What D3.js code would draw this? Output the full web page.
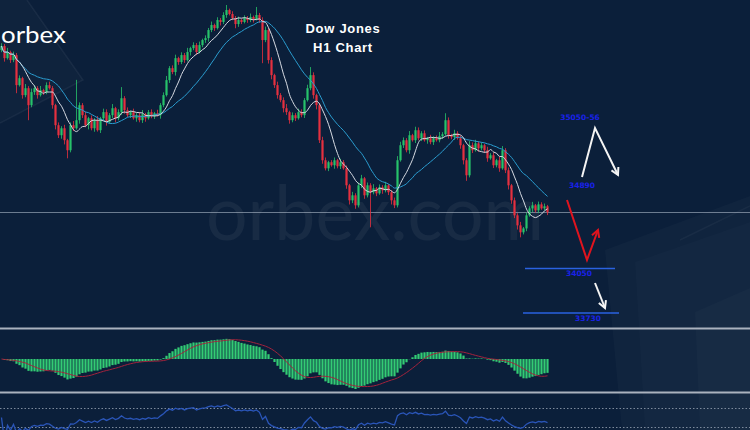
<!DOCTYPE html>
<html><head><meta charset="utf-8">
<script src="https://cdn.jsdelivr.net/npm/d3@7"></script>
<style>html,body{margin:0;padding:0;background:#0b1f3a;overflow:hidden}</style>
</head><body><svg id="c" width="750" height="430"></svg>
<script>
// ---- data (Dow Jones H1 closes) ----
const firstOpen = 35620;
const closes = [
35649,35562,35606,35548,35584,35368,35418,35296,35346,35224,
35318,35346,35296,35332,35318,35368,35346,35224,35080,35008,
35058,34972,34900,35080,35058,35116,35224,35152,35080,35130,
35058,35116,35044,35130,35174,35102,35152,35202,35130,35174,
35274,35188,35152,35174,35130,35152,35116,35159,35130,35174,
35145,35166,35152,35224,35296,35404,35490,35462,35562,35534,
35584,35548,35606,35634,35656,35606,35656,35692,35706,35764,
35800,35778,35836,35822,35872,35908,35879,35850,35807,35836,
35822,35850,35836,35858,35843,35872,35836,35692,35764,35548,
35440,35368,35296,35260,35202,35174,35116,35152,35130,35174,
35152,35260,35346,35440,35296,35224,34972,34828,34770,34814,
34792,34828,34785,34814,34770,34648,34540,34576,34504,34648,
34698,34576,34648,34598,34626,34590,34634,34612,34648,34598,
34540,34504,34828,34936,34972,34900,35008,34972,35044,34986,
35022,34972,34986,34958,34986,34972,35001,35015,35116,35008,
34994,35022,34986,34936,34828,34720,34936,34900,34950,34914,
34936,34900,34842,34864,34792,34828,34770,34900,34756,34648,
34540,34432,34360,34310,34338,34432,34482,34504,34468,34511,
34482,34497,34454];
const upWick = [
20,15,30,10,25,15,20,10,30,15, 25,20,15,30,10,20,25,15,10,20,
15,25,10,20,30,290,20,15,25,10, 20,15,30,10,25,20,15,30,10,20,
80,15,20,10,25,15,20,30,10,15, 20,10,25,15,20,30,15,20,25,10,
20,15,30,10,20,15,25,10,20,15, 25,10,20,15,20,36,10,20,15,25,
10,20,15,25,10,58,15,20,25,15, 20,10,25,15,20,30,10,20,15,25,
20,15,25,58,20,10,15,25,20,10, 15,20,10,25,15,20,10,25,15,20,
25,10,20,15,30,10,20,15,25,10, 15,20,30,25,20,15,30,10,25,20,
15,20,10,25,15,20,30,15,50,20, 10,25,15,20,10,15,30,20,25,15,
20,10,25,15,20,10,25,30,15,20, 10,20,15,25,10,20,15,25,10,20,
15,20,10];
const downWick = [
15,25,10,20,15,58,10,25,15,108, 15,20,25,10,20,15,10,25,30,20,
25,30,58,15,20,10,25,20,15,30, 15,25,10,20,15,25,10,20,30,15,
20,25,15,20,10,25,15,20,25,10, 15,20,10,25,15,10,20,15,25,20,
15,20,10,25,15,20,10,15,20,25, 15,20,10,25,15,20,10,15,30,20,
15,10,20,15,25,10,20,166,15,25, 30,20,25,15,30,20,25,15,20,10,
15,20,10,15,25,30,20,25,15,20, 10,25,15,20,10,25,30,20,25,15,
20,25,15,252,15,20,10,25,15,20, 30,20,15,10,20,15,25,10,20,15,
20,10,25,15,20,10,15,20,10,25, 15,20,10,25,30,40,15,20,10,25,
15,20,25,10,20,15,25,10,20,30, 25,20,30,36,15,20,10,25,15,20,
10,15,20];
const levelValues = [34050, 33730];
const levelLabels = ["34050", "33730"];
const targetLabels = ["35050-56", "34890"];
const titleLines = ["Dow Jones", "H1 Chart"];

// ---- derived OHLC ----
const candles = closes.map((c, i) => {
  const o = i === 0 ? firstOpen : closes[i - 1];
  return {i, o, c, h: Math.max(o, c) + upWick[i], l: Math.min(o, c) - downWick[i]};
});

const svg = d3.select("#c");
const W = 750, H = 430;
const x = d3.scaleLinear().domain([0, closes.length - 1]).range([1.5, 547.5]);
const y = d3.scaleLinear().domain([33730, 35980]).range([313, 0]);

// background
svg.append("rect").attr("width", W).attr("height", H).attr("fill", "#0b1f3a");
const deco = svg.append("g");
deco.append("path").attr("d", "M0,0 L27,0 L83,80 L0,123 Z").attr("fill", "rgba(255,255,255,0.018)");
deco.append("path").attr("d", "M27,0 L83,80 L0,123").attr("fill", "none").attr("stroke", "rgba(255,255,255,0.05)").attr("stroke-width", 1.5);
deco.append("path").attr("d", "M605,250 L750,196 L750,430 L622,430 Z").attr("fill", "rgba(255,255,255,0.022)");
deco.append("path").attr("d", "M635,262 L750,222 L750,430 L645,430 Z").attr("fill", "rgba(255,255,255,0.015)");
deco.append("path").attr("d", "M695,312 L750,288 L750,430 L700,430 Z").attr("fill", "rgba(255,255,255,0.02)");
deco.append("path").attr("d", "M680,240 L750,206").attr("stroke", "rgba(255,255,255,0.04)").attr("stroke-width", 1.5);

// watermark
svg.append("text").attr("x", 206).attr("y", 240).attr("font-family", "Lato").attr("font-weight", 400)
  .attr("font-size", 76).attr("fill", "rgba(255,255,255,0.055)").attr("textLength", 338)
  .attr("lengthAdjust", "spacingAndGlyphs").text("orbex.com");

// logo
svg.append("text").attr("x", 1).attr("y", 43).attr("font-family", "Lato").attr("font-weight", 400)
  .attr("font-size", 24).attr("fill", "#ffffff").attr("textLength", 65)
  .attr("lengthAdjust", "spacingAndGlyphs").text("orbex");

// current price line
svg.append("line").attr("x1", 0).attr("x2", W).attr("y1", Math.round(y(closes[closes.length - 1])) + 0.5)
  .attr("y2", Math.round(y(closes[closes.length - 1])) + 0.5).attr("stroke", "rgba(190,200,215,0.55)").attr("stroke-width", 1);

// candles
const green = "#27c26a", red = "#e5303f";
const cg = svg.append("g");
cg.selectAll("rect.w").data(candles).join("rect").attr("class", "w")
  .attr("x", d => x(d.i) - 0.5).attr("width", 1)
  .attr("y", d => y(d.h)).attr("height", d => y(d.l) - y(d.h))
  .attr("fill", d => d.c >= d.o ? green : red).attr("opacity", 0.8);
cg.selectAll("rect.b").data(candles).join("rect").attr("class", "b")
  .attr("x", d => x(d.i) - 1.1).attr("width", 2.2)
  .attr("y", d => y(Math.max(d.o, d.c))).attr("height", d => Math.max(1, Math.abs(y(d.o) - y(d.c))))
  .attr("fill", d => d.c >= d.o ? green : red);

// moving averages
function sma(a, n) { return a.map((v, i) => d3.mean(a.slice(Math.max(0, i - n + 1), i + 1))); }
function ema(a, n) { const k = 2 / (n + 1); let e = a[0]; return a.map(v => (e = e + k * (v - e))); }
const ma8 = sma(closes, 8), ma20 = sma(closes, 20);
const lineP = d3.line().x((d, i) => x(i)).y(d => y(d)).curve(d3.curveMonotoneX);
svg.append("path").attr("d", lineP(ma20)).attr("fill", "none").attr("stroke", "#2a9ccf").attr("stroke-width", 1);
svg.append("path").attr("d", lineP(ma8)).attr("fill", "none").attr("stroke", "#d6dae2").attr("stroke-width", 1);

// title
svg.selectAll("text.t").data(titleLines).join("text").attr("class", "t")
  .attr("x", 343).attr("y", (d, i) => 33 + i * 19).attr("text-anchor", "middle")
  .attr("font-family", "Liberation Sans, Arial").attr("font-weight", 700).attr("font-size", 13)
  .attr("letter-spacing", 0.7).attr("fill", "#ffffff").text(d => d);

// annotations
const ann = svg.append("g");
function arrow(pts, color) {
  ann.append("polyline").attr("points", pts.map(p => p.join(",")).join(" ")).attr("fill", "none")
    .attr("stroke", color).attr("stroke-width", 2).attr("stroke-linejoin", "miter");
  const [p1, p2] = pts.slice(-2);
  const ang = Math.atan2(p2[1] - p1[1], p2[0] - p1[0]);
  const L = 8, s = 0.5;
  const a1 = [p2[0] - L * Math.cos(ang - s), p2[1] - L * Math.sin(ang - s)];
  const a2 = [p2[0] - L * Math.cos(ang + s), p2[1] - L * Math.sin(ang + s)];
  ann.append("polyline").attr("points", [a1, p2, a2].map(p => p.join(",")).join(" "))
    .attr("fill", "none").attr("stroke", color).attr("stroke-width", 2);
}
arrow([[582, 177], [595, 128], [618, 175]], "#f4f4f4");
arrow([[567, 200], [587, 260], [598, 230]], "#e0141e");
arrow([[595, 283], [605, 308]], "#f4f4f4");

const lvX = [[525, 615], [523, 619]];
ann.selectAll("line.lv").data(levelValues).join("line").attr("class", "lv")
  .attr("x1", (d, i) => lvX[i][0]).attr("x2", (d, i) => lvX[i][1])
  .attr("y1", d => y(d)).attr("y2", d => y(d)).attr("stroke", "#2a62e0").attr("stroke-width", 1.3);
const blueTxt = {"font-family": "DejaVu Sans", "font-weight": 700, "font-size": 7.5, fill: "#1a22e8"};
function btext(xp, yp, t) {
  const el = ann.append("text").attr("x", xp).attr("y", yp).attr("text-anchor", "middle").text(t);
  Object.entries(blueTxt).forEach(([k, v]) => el.attr(k, v));
}
levelLabels.forEach((t, i) => btext((lvX[i][0] + lvX[i][1]) / 2 + (i === 0 ? 9 : 17), y(levelValues[i]) + 8, t));
btext(580, 120, targetLabels[0]);
btext(582, 188, targetLabels[1]);

// separators
[328.5, 392.5].forEach(yy => svg.append("line").attr("x1", 0).attr("x2", W).attr("y1", yy).attr("y2", yy)
  .attr("stroke", "#aab2be").attr("stroke-width", 2.2));

// MACD panel
const e12 = ema(closes, 12), e26 = ema(closes, 26);
const macd = e12.map((v, i) => v - e26[i]);
const signal = sma(macd, 9);
const m = d3.max(macd, v => Math.abs(v));
const yM = d3.scaleLinear().domain([-m, m]).range([389, 329]);
const zero = yM(0);
svg.append("g").selectAll("rect").data(macd).join("rect")
  .attr("x", (d, i) => x(i) - 1.1).attr("width", 2.2)
  .attr("y", d => Math.min(yM(d), zero)).attr("height", d => Math.abs(yM(d) - zero))
  .attr("fill", "#33cc74");
svg.append("path").attr("d", d3.line().x((d, i) => x(i)).y(d => yM(d))(signal))
  .attr("fill", "none").attr("stroke", "#a3223c").attr("stroke-width", 1);

// RSI panel
const rsi = [];
let ag = 0, al = 0;
closes.forEach((c, i) => {
  if (i === 0) { rsi.push(50); return; }
  const ch = c - closes[i - 1], g = Math.max(ch, 0), l = Math.max(-ch, 0);
  if (i <= 14) { ag = (ag * (i - 1) + g) / i; al = (al * (i - 1) + l) / i; }
  else { ag = (ag * 13 + g) / 14; al = (al * 13 + l) / 14; }
  rsi.push(al === 0 ? 100 : 100 - 100 / (1 + ag / al));
});
const yR = d3.scaleLinear().domain([30, 70]).range([427, 408]);
[70, 30].forEach(v => svg.append("line").attr("x1", 0).attr("x2", W).attr("y1", yR(v) + 0.5).attr("y2", yR(v) + 0.5)
  .attr("stroke", "#7d8a9c").attr("stroke-width", 1).attr("stroke-dasharray", "1.5,2"));
svg.append("path").attr("d", d3.line().x((d, i) => x(i)).y(d => yR(d))(rsi))
  .attr("fill", "none").attr("stroke", "#2a55b8").attr("stroke-width", 1.3);
</script></body></html>
